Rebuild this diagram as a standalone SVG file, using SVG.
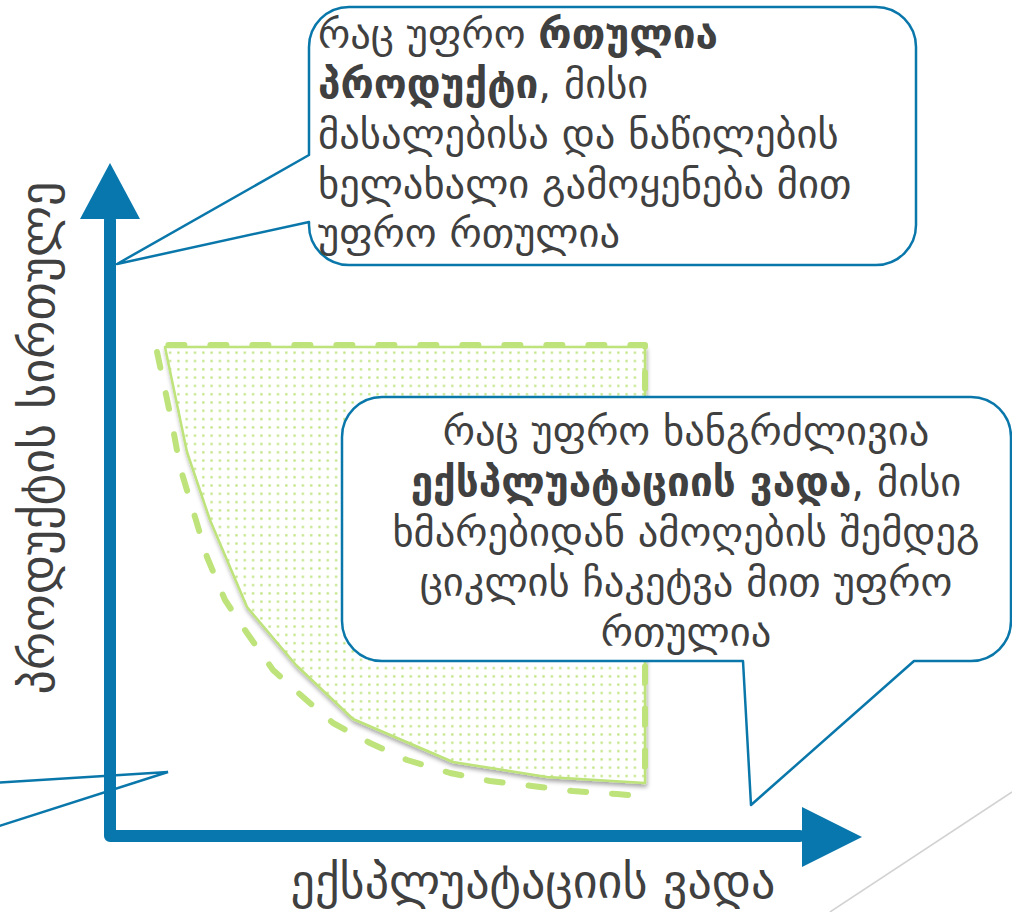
<svg xmlns="http://www.w3.org/2000/svg" width="1012" height="912" viewBox="0 0 1012 912">
<style>
  .txt{font-family:"DejaVu Sans","Noto Sans",sans-serif;fill:#404040;}
  .body{font-size:40.5px;}
  .axlab{font-size:48px;}
  .b{font-weight:bold;}
  .callout{fill:#ffffff;stroke:#0A77AB;stroke-width:2.5;stroke-linejoin:round;}
  .axis{fill:none;stroke:#0777AD;stroke-width:12;stroke-linejoin:round;stroke-linecap:round;}
  .head{fill:#0777AD;}
  .green{fill:url(#dots);stroke:#BDE37A;stroke-width:2.5;stroke-linejoin:round;}
  .dash{fill:none;stroke:#BDE37A;stroke-width:6;stroke-linecap:round;stroke-linejoin:round;stroke-dasharray:16 26;}
</style>
<defs>
  <pattern id="dots" patternUnits="userSpaceOnUse" width="8.3" height="8.3">
    <rect width="8.3" height="8.3" fill="#ffffff"/>
    <rect x="3" y="3" width="2.2" height="2.2" fill="#BDE37A"/>
  </pattern>
  <filter id="shadow" x="-10%" y="-10%" width="120%" height="120%">
    <feDropShadow dx="1" dy="3" stdDeviation="2" flood-color="#000000" flood-opacity="0.35"/>
  </filter>
</defs>
<line x1="1012" y1="792" x2="830" y2="912" stroke="#D2D2D2" stroke-width="1.5"/>
<g id="area">
  <path class="green" filter="url(#shadow)" d="M165,347 L187,452 L210,520 L247,607 L296,665 L353,719 L453,762 L547,777 L645,783 L645,347 Z"/>
  <path class="dash" d="M628,795 L617,794 L573,791 L532,786 L490,781 L450,773 L407,760 L370,743 L333,723 L303,697 L273,670 L247,633 L225,600 L207,557 L195,517 L180,467 L172,423 L156,347 L152,345 L645,345 L645,790"/>
</g>
<g id="connectors">
  <path d="M-10,783 L168,772 L-10,829" fill="none" stroke="#0A77AB" stroke-width="2.5" stroke-linejoin="miter"/>
  <path class="axis" d="M110,220 V836 H800"/>
  <polygon class="head" points="110,163 80,219 140,219"/>
  <polygon class="head" points="862,837 802,807 802,867"/>
</g>
<g id="callout-top">
  <path class="callout" d="M349,7 H876 A40,40 0 0 1 916,47 V225 A40,40 0 0 1 876,265 H349 A40,40 0 0 1 309,225 V222 L117,264 L309,155 V47 A40,40 0 0 1 349,7 Z"/>
  <text class="txt body" x="318" y="48">რაც უფრო <tspan class="b">რთულია</tspan></text>
  <text class="txt body" x="318" y="98"><tspan class="b">პროდუქტი</tspan>, მისი</text>
  <text class="txt body" x="318" y="148">მასალებისა და ნაწილების</text>
  <text class="txt body" x="318" y="198">ხელახალი გამოყენება მით</text>
  <text class="txt body" x="318" y="247">უფრო რთულია</text>
</g>
<g id="callout-middle">
  <path class="callout" d="M382,397 H971 A40,40 0 0 1 1011,437 V621 A40,40 0 0 1 971,661 H914 L751,805 L743,661 H382 A40,40 0 0 1 342,621 V437 A40,40 0 0 1 382,397 Z"/>
  <text class="txt body" x="686" y="445" text-anchor="middle">რაც უფრო ხანგრძლივია</text>
  <text class="txt body" x="686" y="496" text-anchor="middle"><tspan class="b">ექსპლუატაციის ვადა</tspan>, მისი</text>
  <text class="txt body" x="686" y="546" text-anchor="middle">ხმარებიდან ამოღების შემდეგ</text>
  <text class="txt body" x="686" y="596" text-anchor="middle">ციკლის ჩაკეტვა მით უფრო</text>
  <text class="txt body" x="686" y="646" text-anchor="middle">რთულია</text>
</g>
<g id="label-x">
  <text class="txt axlab" x="533" y="898" text-anchor="middle">ექსპლუატაციის ვადა</text>
</g>
<g id="label-y">
  <text class="txt axlab" x="0" y="0" text-anchor="middle" transform="translate(54,438) rotate(-90)">პროდუქტის სირთულე</text>
</g>
</svg>
